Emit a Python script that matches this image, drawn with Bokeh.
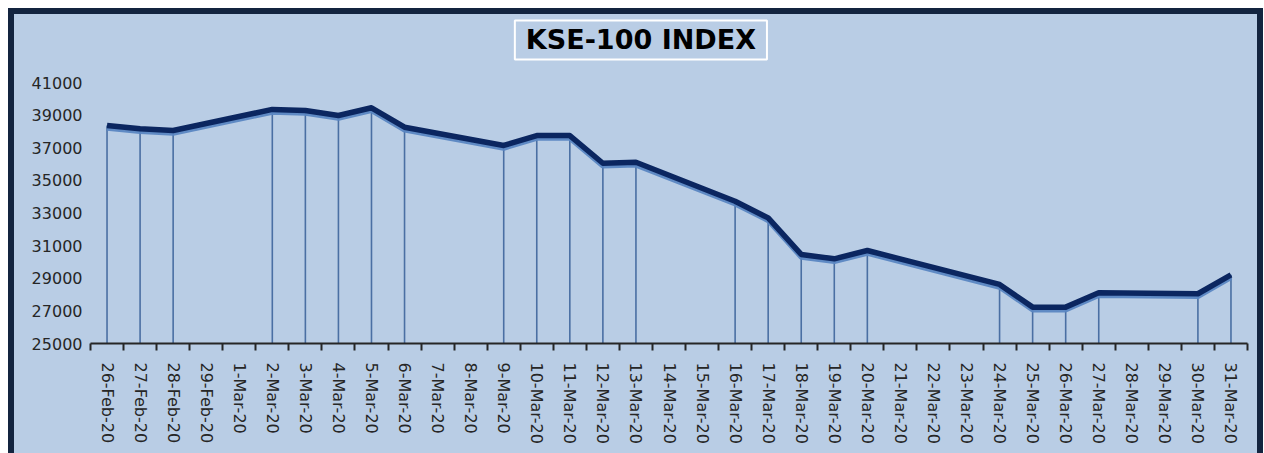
from bokeh.plotting import figure
from bokeh.models import Range1d, FixedTicker, Label, ColumnDataSource
from bokeh.transform import dodge
from bokeh.embed import file_html
from bokeh.resources import INLINE

title_text = "KSE-100 INDEX"

dates = ["26-Feb-20", "27-Feb-20", "28-Feb-20", "29-Feb-20", "1-Mar-20", "2-Mar-20",
         "3-Mar-20", "4-Mar-20", "5-Mar-20", "6-Mar-20", "7-Mar-20", "8-Mar-20",
         "9-Mar-20", "10-Mar-20", "11-Mar-20", "12-Mar-20", "13-Mar-20", "14-Mar-20",
         "15-Mar-20", "16-Mar-20", "17-Mar-20", "18-Mar-20", "19-Mar-20", "20-Mar-20",
         "21-Mar-20", "22-Mar-20", "23-Mar-20", "24-Mar-20", "25-Mar-20", "26-Mar-20",
         "27-Mar-20", "28-Mar-20", "29-Mar-20", "30-Mar-20", "31-Mar-20"]

trading_days = ["26-Feb-20", "27-Feb-20", "28-Feb-20", "2-Mar-20", "3-Mar-20", "4-Mar-20",
                "5-Mar-20", "6-Mar-20", "9-Mar-20", "10-Mar-20", "11-Mar-20", "12-Mar-20",
                "13-Mar-20", "16-Mar-20", "17-Mar-20", "18-Mar-20", "19-Mar-20", "20-Mar-20",
                "24-Mar-20", "25-Mar-20", "26-Mar-20", "27-Mar-20", "30-Mar-20", "31-Mar-20"]

kse100 = [38370, 38160, 38060, 39350, 39290, 38980,
          39450, 38260, 37140, 37750, 37750, 36050,
          36110, 33720, 32700, 30460, 30190, 30700,
          28620, 27230, 27230, 28110, 28050, 29210]

y_ticks = [25000, 27000, 29000, 31000, 33000, 35000, 37000, 39000, 41000]

BG = "#B9CDE5"
NAVY = "#13243F"
Y_TOP = 45170  # frame extends above the last tick so the title box sits inside it

idx = [dates.index(d) for d in trading_days]
src = ColumnDataSource(dict(x=idx, y=kse100, base=[y_ticks[0]] * len(idx)))

p = figure(width=1255, height=445, output_backend="svg", toolbar_location=None,
           x_range=Range1d(-0.5, len(dates) - 0.5),
           y_range=Range1d(y_ticks[0], Y_TOP),
           min_border_left=82, min_border_right=16, min_border_top=6, min_border_bottom=110,
           background_fill_color=None, border_fill_color=None, outline_line_color=None)

p.styles = {"background-color": BG, "margin-left": "8px", "margin-top": "8px",
            "box-shadow": f"inset 6px 0 0 0 {NAVY}, inset -6px 0 0 0 {NAVY}, inset 0 6px 0 0 {NAVY}"}

p.grid.visible = False

# x axis: labels at centres, tick marks at category boundaries
centres = list(range(len(dates)))
bounds = [i - 0.5 for i in range(len(dates) + 1)]
p.xaxis.ticker = FixedTicker(ticks=centres, minor_ticks=bounds)
p.xaxis.major_label_overrides = {i: d for i, d in enumerate(dates)}
p.xaxis.major_label_orientation = "vertical"
p.xaxis.major_tick_out = 0
p.xaxis.major_tick_in = 0
p.xaxis.minor_tick_out = 7
p.xaxis.minor_tick_in = 0
p.xaxis.minor_tick_line_color = "#262626"
p.xaxis.minor_tick_line_width = 2
p.xaxis.axis_line_color = "#262626"
p.xaxis.axis_line_width = 2
p.xaxis.major_label_standoff = 12
p.xaxis.major_label_text_font = "DejaVu Sans"
p.xaxis.major_label_text_font_size = "16px"
p.xaxis.major_label_text_color = "#262626"

# y axis
p.yaxis.ticker = FixedTicker(ticks=y_ticks)
p.yaxis.formatter.use_scientific = False
p.yaxis.axis_line_color = None
p.yaxis.major_tick_line_color = None
p.yaxis.major_tick_out = 0
p.yaxis.major_tick_in = 0
p.yaxis.minor_tick_line_color = None
p.yaxis.major_label_standoff = 8
p.yaxis.major_label_text_font = "DejaVu Sans"
p.yaxis.major_label_text_font_size = "16px"
p.yaxis.major_label_text_color = "#262626"

# drop lines
p.segment(x0="x", y0="base", x1="x", y1="y", source=src, line_color="#4A6FA3", line_width=1.6)
# shadow + main line
p.line(x="x", y=dodge("y", -170, range=p.y_range), source=src, line_color="#5A86C2",
       line_width=5, line_alpha=0.95)
p.line(x="x", y="y", source=src, line_color="#0B2660", line_width=5.5, line_join="round")

title = Label(x=16.15, y=43610, text=title_text,
              text_align="center", text_baseline="middle",
              text_font="DejaVu Sans", text_font_style="bold", text_font_size="27px",
              text_color="#000000", border_line_color="white", border_line_width=2,
              background_fill_color=BG, padding=(11, 4))
p.add_layout(title)

open("out.html", "w").write(file_html(p, INLINE))
